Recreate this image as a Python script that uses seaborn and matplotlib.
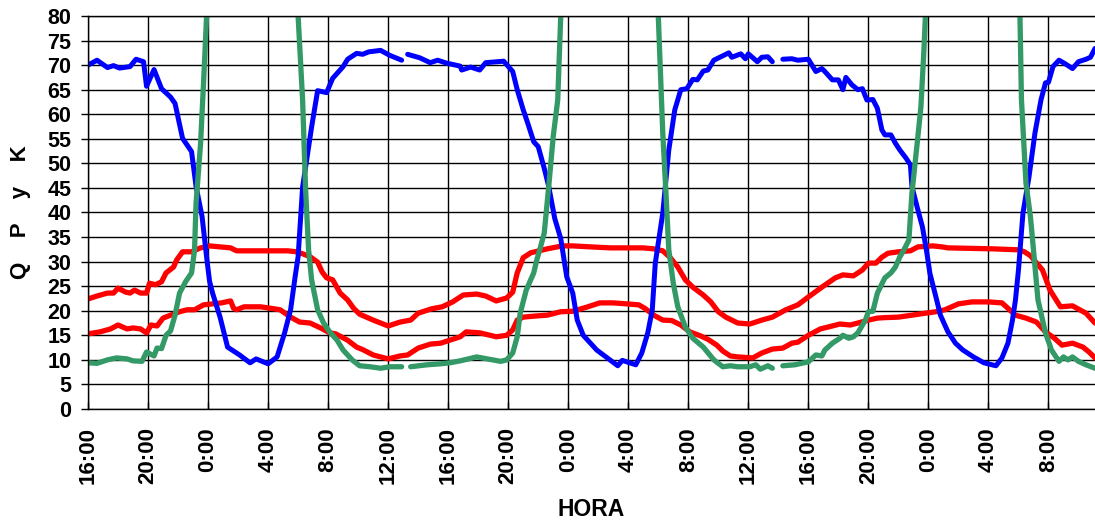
import numpy as np
import pandas as pd
import matplotlib
matplotlib.use("Agg")
import matplotlib.pyplot as plt
import seaborn as sns

nan = np.nan

# hours since the first 16:00
blue_h = [0, 0.6, 1.3, 1.7, 2.1, 2.8, 3.2, 3.7, 3.9, 4.4, 4.9, 5.5, 5.8, 6.3, 6.9, 7.2, 7.6, 7.9, 8.1, 8.3, 8.8, 9.3, 10.1, 10.8, 11.2, 12, 12.6, 13.1, 13.5, 13.8, 14.0, 14.3, 14.9, 15.3, 15.9, 16.3, 17, 17.3, 17.9, 18.3, 18.7, 19.5, 20.1, 20.9, 21.1,
          21.3, 22.1, 22.8, 23.3, 23.9, 24.8, 24.9, 25.5, 26.1, 26.5, 27.7, 28.3, 28.6, 29, 29.3, 29.7, 30, 30.4, 30.7, 31.1, 31.5, 31.9, 32.3, 32.6, 33, 33.9, 34.6, 35.3, 35.6, 36.5, 36.9, 37.3, 37.6, 37.8, 38.3, 38.7, 39.1, 39.5, 39.9, 40.3, 40.6, 41, 41.3, 41.7, 42.1, 42.7, 42.9, 43.5, 43.8, 44, 44.6, 44.9, 45.3, 45.6, 46.0,
          46.3, 46.9, 47.3, 48, 48.5, 48.9, 49.1, 49.6, 50, 50.3, 50.5, 50.9, 51.3, 51.6, 51.9, 52.3, 52.6, 52.9, 53.1, 53.5, 53.8, 54.1, 54.5, 54.8, 54.9, 55.3, 55.6, 55.9, 56.1, 56.5, 56.8, 57.3, 57.8, 58.3, 59, 59.7, 60.5, 60.9, 61.3, 61.6, 61.8, 62.0, 62.3, 62.7, 63.1, 63.5, 63.8, 64, 64.3, 64.7, 65.1, 65.6, 66, 66.5, 66.8, 67.1]
blue_v = [70, 71, 69.5, 69.9, 69.4, 69.7, 71.2, 70.7, 65.7, 69.1, 65.2, 63.5, 62.2, 55.1, 52.4, 45.3, 39.2, 31, 26, 23.6, 18.7, 12.6, 11, 9.4, 10.2, 9.2, 10.6, 15.5, 20.2, 26.9, 31, 45.2, 57.4, 64.8, 64.4, 67.3, 69.7, 71.2, 72.4, 72.2, 72.7, 73, 72, 71, nan,
          72.2, 71.5, 70.5, 71, 70.4, 69.8, 69, 69.6, 69, 70.5, 70.8, 68.7, 65, 60.9, 58.2, 54.4, 53.4, 49, 45.3, 38.8, 34.7, 26.9, 23.6, 18.1, 15, 12, 10.4, 8.8, 9.9, 9, 11.4, 15.5, 20.2, 29.7, 39.9, 52.7, 60.9, 65, 65.2, 67.1, 67, 68.8, 69, 71, 71.6, 72.5, 71.6, 72.3, 71.3, 72.3, 70.7, 71.6, 71.7, 70.7, nan,
          71.2, 71.3, 71, 71.2, 68.7, 69.3, 68.7, 67, 67, 65, 67.5, 66, 65, 65.2, 62.9, 63, 61.2, 56.8, 55.8, 55.8, 54.1, 52.7, 51.1, 49.7, 45.3, 40.5, 37.1, 31.7, 27.6, 22.8, 19.1, 15.7, 13.4, 12, 10.6, 9.4, 8.8, 10.4, 13.4, 18.1, 22.2, 28.3, 39.9, 47.2, 56.2, 62.9, 66.4, 66.5, 69.7, 71, 70.3, 69.3, 70.7, 71.2, 71.6, 73.4]

green_h = [0, 0.6, 1.3, 1.9, 2.6, 3, 3.6, 3.9, 4.4, 4.6, 4.9, 5.2, 5.5, 5.8, 6.1, 6.5, 6.9, 7.1, 7.2, 7.5, 7.7, 7.9, 8.1, 13.8, 14.0, 14.3, 14.5, 14.7, 14.9, 15.3, 15.7, 16.1, 16.6, 17, 17.6, 18.1, 18.8, 19.5, 20.1, 20.9, 21.2,
           21.5, 22.6, 23.5, 24.1, 24.8, 25.9, 26.6, 27.5, 27.9, 28.3, 28.6, 28.8, 29.2, 29.7, 29.9, 30.1, 30.4, 30.7, 31, 31.3, 31.5, 31.7, 37.8, 38, 38.3, 38.5, 38.7, 39, 39.3, 39.8, 40.3, 41, 41.7, 42.3, 42.8, 43.3, 44.1, 44.5, 44.8, 45.3, 45.6, 46.0,
           46.3, 47.1, 48, 48.5, 48.9, 49.1, 49.6, 50.1, 50.3, 50.7, 51, 51.3, 51.8, 52, 52.3, 52.6, 53.1, 53.5, 53.8, 54.1, 54.3, 54.7, 54.9, 55.3, 55.5, 55.7, 55.8, 56.0, 61.9, 62.1, 62.2, 62.5, 62.8, 63.0, 63.3, 63.8, 64.2, 64.7, 65, 65.3, 65.6, 66, 66.5, 67.1]
green_v = [9.4, 9.3, 10, 10.4, 10.2, 9.8, 9.7, 11.6, 10.8, 12.4, 12.3, 15, 15.9, 19.1, 23.6, 25.9, 27.7, 32.4, 41.9, 54, 66.4, 79.8, 100, 100, 80, 62.9, 44.6, 32.4, 26.3, 20.2, 17.5, 15.7, 14, 12, 10, 8.8, 8.6, 8.3, 8.6, 8.6, nan,
           8.6, 9, 9.2, 9.4, 9.8, 10.6, 10.2, 9.7, 10, 11.4, 14.7, 19.5, 24.2, 27.7, 30.3, 32.4, 35.8, 45.3, 55.5, 62.9, 80, 100, 100, 80, 56.1, 44.6, 32.4, 25.6, 20.8, 16.7, 14.4, 12.6, 10, 8.6, 8.8, 8.6, 8.6, 9, 8.1, 8.8, 8.3, nan,
           8.8, 9, 9.6, 11, 10.8, 12, 13.4, 14.4, 15, 14.4, 14.7, 15.5, 18.1, 19.8, 19.9, 23.6, 26.7, 27.7, 28.9, 31, 32, 34.4, 43.9, 55.5, 61.5, 73, 80, 100, 100, 80, 62.9, 46, 39.1, 32.4, 22.2, 15.5, 12, 9.7, 10.6, 10, 10.6, 9.7, 9, 8.3]

red_up_h = [0, 0.6, 1.3, 1.7, 2, 2.5, 2.8, 3.1, 3.5, 3.9, 4.1, 4.5, 4.9, 5.2, 5.7, 5.9, 6.3, 6.9, 7.5, 8.1, 8.8, 9.5, 9.9, 10.8, 11.9, 13.3, 13.9, 14.3, 14.8, 15.3, 15.6, 15.9, 16.3, 16.8, 17.3, 17.7, 18.1, 19, 20, 20.8, 21.5, 22, 22.9, 23.6, 24.3, 25, 25.9, 26.5, 27.2, 27.9, 28.3, 28.6, 29, 29.5, 30.6, 31.6, 32.3, 33.5, 34.8, 37, 37.7, 38.3, 38.8, 39.3, 39.8, 40.3, 41, 41.5, 42, 42.5, 43.3, 44.1, 44.9, 45.6, 46.5, 47.3, 48, 48.9, 49.8, 50.3, 51, 51.6, 52, 52.5, 52.9, 53.3, 54, 54.8, 55.3, 56.3, 56.9, 57.3, 60.3, 62, 62.4, 62.8, 63.6, 64.1, 64.8, 65.6, 66.5, 67.1]
red_up_v = [22.4, 23, 23.6, 23.6, 24.6, 23.8, 23.6, 24.2, 23.6, 23.6, 25.6, 25.3, 25.9, 27.7, 28.9, 30.3, 32, 32, 32.8, 33.2, 33, 32.8, 32.2, 32.2, 32.2, 32.2, 32, 31.6, 31, 29.9, 27.9, 26.7, 26.3, 23.6, 22.2, 20.5, 19.3, 18.1, 16.9, 17.7, 18.1, 19.5, 20.4, 20.8, 21.8, 23.2, 23.4, 23, 22, 22.6, 23.8, 27.7, 30.8, 31.8, 32.6, 33.2, 33.2, 33, 32.8, 32.8, 32.6, 32.2, 30.8, 28.9, 26.3, 24.8, 23.2, 21.8, 19.8, 18.7, 17.5, 17.3, 18.1, 18.7, 20.2, 21.2, 22.8, 24.8, 26.7, 27.3, 27.1, 28.3, 29.7, 29.7, 30.9, 31.7, 32, 32.2, 33, 33.2, 33, 32.8, 32.6, 32.4, 32, 31.2, 28.3, 24.2, 20.8, 21, 19.5, 17.5]

red_lo_h = [0, 0.8, 1.5, 2, 2.6, 3, 3.5, 3.9, 4.2, 4.6, 5, 5.5, 6.1, 6.6, 7.1, 7.7, 8.3, 8.9, 9.5, 9.7, 9.9, 10.4, 11.5, 12.4, 12.8, 13.5, 14.1, 14.8, 15.5, 16.1, 16.5, 17.3, 17.9, 18.3, 19, 20, 20.8, 21.3, 22, 22.8, 23.5, 24.1, 24.8, 25.2, 26.1, 26.8, 27.2, 27.9, 28.3, 28.6, 29, 29.7, 30.6, 31.5, 32.3, 33.3, 34.1, 35, 35.9, 36.7, 37.1, 37.7, 38.3, 38.9, 39.5, 40.1, 40.8, 41.3, 41.9, 42.3, 42.8, 43.3, 44.3, 44.9, 45.6, 46.3, 46.9, 47.3, 48, 48.8, 49.6, 50.1, 50.8, 51.3, 52, 52.6, 53.1, 54, 54.9, 55.8, 56.5, 57.1, 58, 58.9, 60, 60.9, 61.3, 61.8, 62.5, 63.2, 63.8, 64.4, 64.9, 65.6, 66.3, 66.7, 67.1]
red_lo_v = [15.3, 15.7, 16.3, 17.1, 16.3, 16.5, 16.3, 15.5, 17.1, 16.9, 18.5, 19.1, 19.8, 20.2, 20.2, 21.2, 21.4, 21.6, 22, 20.5, 20.2, 20.8, 20.8, 20.4, 20.2, 18.7, 17.7, 17.5, 16.5, 15.5, 15.3, 14, 12.6, 12.1, 11, 10.2, 10.8, 11, 12.4, 13.2, 13.4, 14, 14.7, 15.7, 15.5, 15, 14.7, 15, 16.1, 18.1, 18.7, 18.9, 19.1, 19.8, 19.9, 20.8, 21.6, 21.6, 21.4, 21.2, 20.5, 19.1, 18.1, 18, 17.1, 15.7, 14.9, 14.2, 13, 11.8, 10.8, 10.6, 10.4, 11.4, 12.2, 12.4, 13.4, 13.6, 15, 16.3, 16.9, 17.3, 17.1, 17.5, 18.1, 18.5, 18.6, 18.7, 19.1, 19.5, 19.8, 20.2, 21.4, 21.8, 21.8, 21.6, 20.5, 19.1, 18.5, 17.7, 15.7, 14.4, 13, 13.4, 12.6, 11.6, 10.4]

tick_hours = list(range(0, 65, 4))
tick_labels = ["16:00", "20:00", "0:00", "4:00", "8:00", "12:00"] * 3
tick_labels = tick_labels[:len(tick_hours)]

sns.set_theme(style="white")
plt.rcParams['font.family'] = ['Liberation Sans', 'DejaVu Sans']
plt.rcParams['text.color'] = 'black'
plt.rcParams['axes.labelcolor'] = 'black'
plt.rcParams['xtick.color'] = 'black'
plt.rcParams['ytick.color'] = 'black'

fig = plt.figure(figsize=(10.95, 5.27), dpi=100)
ax = fig.add_axes([88 / 1095, 1 - 409 / 527, 1 - 88 / 1095, (409 - 16) / 527])


def draw(hs, vs, color, lw):
    df = pd.DataFrame({"h": hs, "v": vs})
    seg = df["v"].isna().cumsum()
    for _, part in df.groupby(seg):
        part = part.dropna()
        if len(part) > 1:
            sns.lineplot(data=part, x="h", y="v", ax=ax, color=color, lw=lw,
                         estimator=None, sort=False, solid_capstyle="round",
                         solid_joinstyle="round")


draw(red_lo_h, red_lo_v, "#FF0000", 3.8)
draw(red_up_h, red_up_v, "#FF0000", 3.8)
draw(blue_h, blue_v, "#0000FF", 3.6)
draw(green_h, green_v, "#339966", 3.8)

ax.set_xlim(0, 67.1)
ax.set_ylim(0, 80)
ax.set_yticks(range(0, 81, 5))
ax.set_xticks(tick_hours)
ax.set_xticklabels(tick_labels, rotation=90)
ax.grid(True, color="black", lw=1.0)
ax.set_axisbelow(True)
ax.spines["right"].set_visible(False)
for s in ["left", "bottom", "top"]:
    ax.spines[s].set_color("black")
    ax.spines[s].set_linewidth(1.0)
ax.tick_params(axis="y", which="major", direction="out", length=5, width=1,
               colors="black", labelcolor="black", labelsize=15.5, pad=7, left=True)
ax.tick_params(axis="x", which="major", direction="in", length=5, width=1,
               colors="black", labelcolor="black", labelsize=16, pad=13, bottom=True)
for lab in ax.get_xticklabels() + ax.get_yticklabels():
    lab.set_fontweight("bold")

ax.set_xlabel("HORA", fontsize=16.5, fontweight="bold", labelpad=10, color="black")
ax.set_ylabel("Q    P    y    K", fontsize=16, fontweight="bold", labelpad=12, color="black")

fig.savefig("out.png", dpi=100)
